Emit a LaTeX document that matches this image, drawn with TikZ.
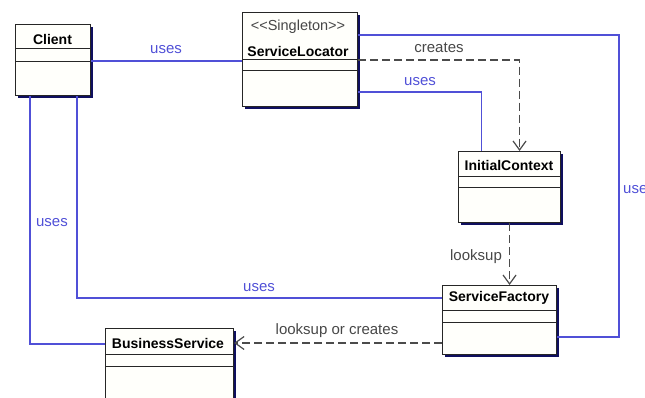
\documentclass[tikz,border=0pt]{standalone}
\usepackage{fontspec}
\setmainfont{Liberation Sans}
\usetikzlibrary{arrows.meta,shadows}
\definecolor{assoc}{RGB}{80,80,215}
\definecolor{deplink}{RGB}{75,75,75}
\definecolor{shadownavy}{RGB}{15,15,95}
\definecolor{boxfill}{RGB}{255,255,251}
\begin{document}
\begin{tikzpicture}[x=1pt,y=-1pt,
  cls/.style={draw=black!85, line width=1.1pt, fill=boxfill, inner sep=0pt,
    anchor=north west,
    drop shadow={shadow xshift=2.5pt, shadow yshift=-2.5pt, fill=shadownavy, opacity=1}},
  title/.style={font=\fontsize{14}{16}\selectfont\bfseries, inner sep=0pt},
  stereo/.style={font=\fontsize{14.5}{16}\selectfont, text=black!72, inner sep=0pt},
  sep/.style={draw=black!85, line width=1pt},
  uses/.style={draw=assoc, line width=1.3pt},
  dep/.style={draw=deplink, line width=1.3pt, dash pattern=on 8pt off 4pt,
    -{Straight Barb[length=9pt,width=13pt,line width=1.2pt]}},
  lbl/.style={font=\fontsize{15}{17}\selectfont, inner sep=0pt, text=assoc},
  deplbl/.style={font=\fontsize{15}{17}\selectfont, inner sep=0pt, text=black!72}]

\useasboundingbox (0,0) rectangle (645,398);

% class boxes
\node[cls, minimum width=75pt,  minimum height=71pt] (Client)   at (15,24)   {};
\node[cls, minimum width=115pt, minimum height=94pt] (Locator)  at (242,12)  {};
\node[cls, minimum width=102pt, minimum height=71pt] (Context)  at (458,151) {};
\node[cls, minimum width=114pt, minimum height=69pt] (Factory)  at (442,285) {};
\node[cls, minimum width=128pt, minimum height=80pt] (Business) at (105,328) {};

% compartment separators
\draw[sep] (Client.west |- 0,49)   -- (Client.east |- 0,49);
\draw[sep] (Client.west |- 0,62)   -- (Client.east |- 0,62);
\draw[sep] (Locator.west |- 0,60)  -- (Locator.east |- 0,60);
\draw[sep] (Locator.west |- 0,71)  -- (Locator.east |- 0,71);
\draw[sep] (Context.west |- 0,177) -- (Context.east |- 0,177);
\draw[sep] (Context.west |- 0,188) -- (Context.east |- 0,188);
\draw[sep] (Factory.west |- 0,310) -- (Factory.east |- 0,310);
\draw[sep] (Factory.west |- 0,322) -- (Factory.east |- 0,322);
\draw[sep] (Business.west |- 0,354) -- (Business.east |- 0,354);
\draw[sep] (Business.west |- 0,366) -- (Business.east |- 0,366);

% class names
\node[title]  (ClientName)   at (52.5,39)  {Client};
\node[stereo] (LocatorStereo) at (298,27)  {<{}<Singleton>{}>};
\node[title]  (LocatorName)  at (298,51)   {ServiceLocator};
\node[title]  (ContextName)  at (509,165)  {InitialContext};
\node[title]  (FactoryName)  at (499,298)  {ServiceFactory};
\node[title]  (BusinessName) at (168,343)  {BusinessService};

% rails for the bent connectors
\coordinate (rightRail) at (619,35);

% associations
\draw[uses] (Client.east |- 0,61) -- (Locator.west |- 0,61);
\draw[uses] (Locator.east |- rightRail) -- (rightRail) |- (Factory.east |- 0,337);
\draw[uses] (Locator.east |- 0,92) -| ([xshift=-28pt]Context.north);
\draw[uses] ([xshift=62pt]Client.south west) |- (Factory.west |- 0,298);
\draw[uses] ([xshift=15pt]Client.south west) |- (Business.west |- 0,344);

% dependencies
\draw[dep] (Locator.east |- 0,60) -| ([xshift=10pt]Context.north);
\draw[dep] (Context.south) -- (Context.south |- Factory.north);
\draw[dep] (Factory.west |- 0,343) -- (Business.east |- 0,343);

% connector labels
\node[lbl]    (l1) at (166,50)  {uses};
\node[lbl]    (l2) at (420,82)  {uses};
\node[lbl, anchor=west] (l3) at (623,190) {uses};
\node[lbl]    (l4) at (52,223)  {uses};
\node[lbl]    (l5) at (259,288) {uses};
\node[deplbl] (d1) at (439,48)  {creates};
\node[deplbl] (d2) at (476,257) {looksup};
\node[deplbl] (d3) at (337,331) {looksup or creates};
\end{tikzpicture}
\end{document}
